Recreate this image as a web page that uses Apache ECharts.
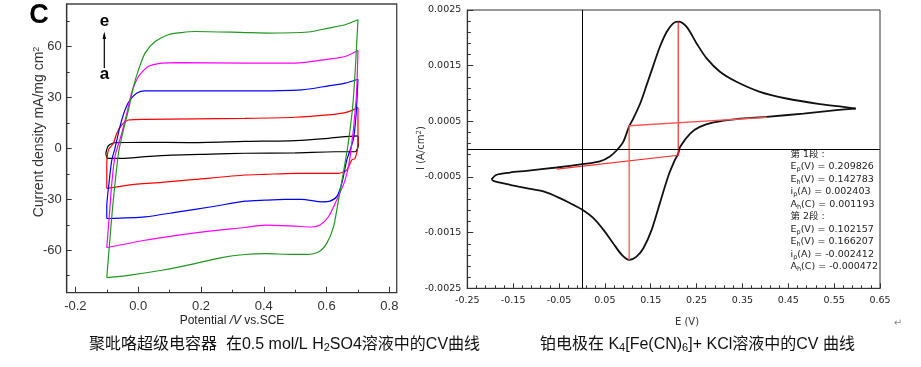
<!DOCTYPE html>
<html><head><meta charset="utf-8">
<script src="https://cdn.jsdelivr.net/npm/echarts@6/dist/echarts.min.js"></script>
<style>html,body{margin:0;padding:0;background:#fff}#c{width:921px;height:367px}</style>
</head><body><div id="c"></div>
<script>
// ---------- Left panel: polypyrrole supercapacitor CV loops (E in V, J in mA/mg cm2) ----------
// each loop: anodic (upper) branch and cathodic (lower) branch
const loopAUp = [[-0.103,-2.9],[-0.098,0.5],[-0.090,2.2],[-0.074,3.3],[0.022,3.6],[0.160,3.4],[0.340,4.1],[0.500,4.6],[0.606,5.9],[0.659,6.9],[0.700,7.3]];
const loopADown = [[0.700,7.3],[0.701,2.0],[0.691,-2.0],[0.627,-2.0],[0.500,-2.7],[0.340,-2.9],[0.234,-3.4],[0.107,-4.0],[0.022,-4.9],[-0.052,-5.9],[-0.097,-5.9],[-0.103,-2.9]];
const loopBUp = [[-0.100,-23.6],[-0.100,-10.8],[-0.095,-1.0],[-0.079,3.0],[-0.068,8.9],[-0.052,13.8],[-0.031,16.7],[0.022,17.1],[0.340,17.7],[0.500,18.3],[0.606,19.7],[0.659,21.0],[0.700,24.0]];
const loopBDown = [[0.700,24.0],[0.700,3.0],[0.691,-5.9],[0.680,-6.9],[0.664,-12.8],[0.638,-14.7],[0.553,-14.7],[0.500,-14.7],[0.404,-15.3],[0.340,-15.7],[0.181,-18.3],[0.075,-20.0],[-0.031,-21.6],[-0.100,-23.6]];
const loopCUp = [[-0.100,-41.3],[-0.100,-34.4],[-0.093,-20.6],[-0.084,-6.9],[-0.074,0.0],[-0.058,12.8],[-0.042,22.6],[-0.026,28.5],[-0.005,32.5],[0.022,33.8],[0.340,33.8],[0.521,34.4],[0.606,36.8],[0.659,38.4],[0.700,40.7]];
const loopCDown = [[0.700,40.7],[0.694,20.0],[0.686,6.0],[0.675,-1.0],[0.664,-7.0],[0.650,-19.5],[0.634,-28.0],[0.611,-31.1],[0.585,-31.5],[0.521,-30.1],[0.468,-30.1],[0.404,-30.5],[0.340,-31.1],[0.234,-34.4],[0.128,-37.4],[0.022,-40.3],[-0.100,-41.3]];
const loopDUp = [[-0.100,-58.4],[-0.092,-40.0],[-0.084,-20.6],[-0.074,-4.9],[-0.062,3.0],[-0.052,9.0],[-0.036,20.7],[-0.021,32.5],[0.001,42.3],[0.032,48.2],[0.075,50.2],[0.128,50.5],[0.340,50.2],[0.500,50.2],[0.606,52.5],[0.659,54.1],[0.700,57.6]];
const loopDDown = [[0.700,57.6],[0.694,28.5],[0.675,-4.9],[0.659,-18.7],[0.632,-30.5],[0.606,-40.3],[0.579,-45.2],[0.553,-46.3],[0.500,-45.8],[0.404,-45.2],[0.340,-46.6],[0.234,-48.6],[0.128,-51.1],[0.022,-54.1],[-0.100,-58.4]];
const loopEUp = [[-0.100,-76.1],[-0.092,-58.0],[-0.080,-32.0],[-0.062,-2.0],[-0.048,10.0],[-0.031,22.6],[-0.015,36.4],[0.001,46.2],[0.022,56.1],[0.054,62.9],[0.096,66.9],[0.139,68.2],[0.181,68.8],[0.340,68.2],[0.415,67.9],[0.542,68.5],[0.606,70.8],[0.659,72.8],[0.700,75.7]];
const loopEDown = [[0.700,75.7],[0.685,28.5],[0.669,3.0],[0.653,-14.7],[0.638,-30.5],[0.622,-46.2],[0.600,-56.1],[0.574,-61.0],[0.537,-62.4],[0.489,-62.4],[0.404,-62.0],[0.340,-62.5],[0.266,-64.3],[0.181,-67.9],[0.075,-71.8],[-0.031,-74.8],[-0.100,-76.1]];
const leftXTicks = [-0.2, 0.0, 0.2, 0.4, 0.6, 0.8];
const leftXMinor = [-0.1, 0.1, 0.3, 0.5, 0.7];
const leftYTicks = [-60, -30, 0, 30, 60];
const leftYMinor = [-75, -45, -15, 15, 45, 75];

// ---------- Right panel: Pt electrode in K4[Fe(CN)6] + KCl (E in V, I in A/cm2) ----------
const cvForward = [[-0.197,-0.00054],[-0.186,-0.00046],[-0.157,-0.00042],[-0.121,-0.00039],[-0.055,-0.00033],[0.001,-0.00027],[0.039,-0.00022],[0.061,-0.00013],[0.076,-0.00002],[0.090,0.00013],[0.103,0.00041],[0.112,0.00055],[0.127,0.00082],[0.141,0.00115],[0.156,0.00151],[0.170,0.00184],[0.185,0.00211],[0.199,0.00226],[0.210,0.00229],[0.228,0.00220],[0.250,0.00190],[0.272,0.00163],[0.301,0.00139],[0.337,0.00121],[0.388,0.00103],[0.446,0.00091],[0.519,0.00081],[0.570,0.00076],[0.597,0.00073]];
const cvReverse = [[0.597,0.00073],[0.555,0.00070],[0.483,0.00064],[0.403,0.00058],[0.337,0.00054],[0.287,0.00048],[0.257,0.00040],[0.236,0.00028],[0.214,0.00004],[0.210,-0.00008],[0.203,-0.00019],[0.188,-0.00049],[0.170,-0.00097],[0.152,-0.00145],[0.134,-0.00178],[0.119,-0.00193],[0.103,-0.00199],[0.087,-0.00190],[0.068,-0.00169],[0.047,-0.00145],[0.025,-0.00124],[0.001,-0.00109],[-0.019,-0.00100],[-0.048,-0.00088],[-0.084,-0.00076],[-0.121,-0.00070],[-0.157,-0.00064],[-0.193,-0.00057],[-0.197,-0.00054]];
const redOx = [[0.210,0.00229],[0.210,-0.00011],[-0.055,-0.00036]];
const redRed = [[0.103,-0.00199],[0.103,0.00042],[0.403,0.00057]];
const rightXTicks = [-0.25,-0.15,-0.05,0.05,0.15,0.25,0.35,0.45,0.55,0.65];
const rightYTicks = [-0.0025,-0.0015,-0.0005,0.0005,0.0015,0.0025];
const rightXMinor = [];
for (let k = -25; k <= 65; k += 2) { if ((k + 25) % 10 !== 0) rightXMinor.push(k / 100); }
const rightYMinor = [];
for (let k = -25; k <= 25; k += 2) { if ((k + 25) % 10 !== 0) rightYMinor.push(k / 10000); }
const annotLines = ['第 1段 :', 'E{s|p}(V) = 0.209826', 'E{s|h}(V) = 0.142783', 'i{s|p}(A) = 0.002403', 'A{s|h}(C) = 0.001193',
                    '第 2段 :', 'E{s|p}(V) = 0.102157', 'E{s|h}(V) = 0.166207', 'i{s|p}(A) = -0.002412', 'A{s|h}(C) = -0.000472'];

const LF = '"Liberation Sans", Arial, sans-serif';
const RF = '"DejaVu Sans", "Noto Sans CJK SC", sans-serif';
const CF = '"Liberation Sans", "Noto Sans CJK SC", sans-serif';

function mainAxis(grid, min, max, ticks, fmt, len, font, size, margin, color, labelColor) {
  return {gridIndex: grid, type: 'value', min: min, max: max,
    axisLine: {show: true, onZero: false, lineStyle: {color: color, width: 1.2}},
    axisTick: {show: true, inside: true, length: len, customValues: ticks, lineStyle: {color: color, width: 1}},
    axisLabel: {show: true, customValues: ticks, formatter: fmt, fontFamily: font, fontSize: size, color: labelColor, margin: margin, hideOverlap: false},
    splitLine: {show: false}, minorTick: {show: false}};
}
function minorAxis(grid, min, max, ticks, len, color) {
  return {gridIndex: grid, type: 'value', min: min, max: max,
    axisLine: {show: false, onZero: false},
    axisTick: {show: true, inside: true, length: len, customValues: ticks, lineStyle: {color: color, width: 1}},
    axisLabel: {show: false}, splitLine: {show: false}};
}
const xa0 = mainAxis(0, -0.2276, 0.8233, leftXTicks, v => v.toFixed(1), 6, LF, 13, 7, '#333', '#333'); xa0.position = 'bottom';
const xa1 = minorAxis(0, -0.2276, 0.8233, leftXMinor, 3, '#333'); xa1.position = 'bottom';
const ya0 = mainAxis(0, -85, 85, leftYTicks, v => String(v), 5, LF, 13, 5, '#333', '#333'); ya0.position = 'left';
const ya1 = minorAxis(0, -85, 85, leftYMinor, 3, '#333'); ya1.position = 'left';
const xa2 = mainAxis(1, -0.25, 0.65, rightXTicks, v => v.toFixed(2), 5, RF, 9.5, 7, '#333', '#222'); xa2.position = 'bottom';
const xa3 = minorAxis(1, -0.25, 0.65, rightXMinor, 3, '#333'); xa3.position = 'bottom';
const ya2 = mainAxis(1, -0.0025, 0.0025, rightYTicks, v => v.toFixed(4), 6, RF, 9.5, 6, '#333', '#222'); ya2.position = 'left';
const ya3 = minorAxis(1, -0.0025, 0.0025, rightYMinor, 3.5, '#333'); ya3.position = 'left';

function branch(data, color) {
  return {type: 'line', xAxisIndex: 0, yAxisIndex: 0, data: data, showSymbol: false, symbol: 'none', smooth: 0.25,
    lineStyle: {color: color, width: 1.2}, silent: true, z: 3};
}

const graphic = [
  {type: 'text', x: 39, y: 16, style: {text: 'C', fontFamily: LF, fontSize: 27, fontWeight: 'bold', fill: '#000', align: 'center', verticalAlign: 'middle'}},
  {type: 'text', x: 104.5, y: 21, style: {text: 'e', fontFamily: LF, fontSize: 17, fontWeight: 'bold', fill: '#000', align: 'center', verticalAlign: 'middle'}},
  {type: 'text', x: 104.5, y: 74, style: {text: 'a', fontFamily: LF, fontSize: 17, fontWeight: 'bold', fill: '#000', align: 'center', verticalAlign: 'middle'}},
  {type: 'line', shape: {x1: 104.3, y1: 68, x2: 104.3, y2: 34}, style: {stroke: '#000', lineWidth: 1.2}},
  {type: 'polygon', shape: {points: [[102.6, 39], [106, 39], [104.3, 31.5]]}, style: {fill: '#000'}},
  {type: 'text', x: 39, y: 132, rotation: Math.PI / 2,
    style: {text: 'Current density mA/mg cm{sup|2}', fontFamily: LF, fontSize: 14, fill: '#333', align: 'center', verticalAlign: 'middle',
      rich: {sup: {fontFamily: LF, fontSize: 9, fill: '#333', verticalAlign: 'top'}}}},
  {type: 'text', x: 232, y: 321, style: {text: 'Potential {it|/V} vs.SCE', fontFamily: LF, fontSize: 12, fill: '#222', align: 'center', verticalAlign: 'middle',
      rich: {it: {fontFamily: LF, fontSize: 12, fontStyle: 'italic', fill: '#222'}}}},
  {type: 'text', x: 421, y: 148, rotation: Math.PI / 2,
    style: {text: 'I (A/cm{sup|2})', fontFamily: RF, fontSize: 10, fill: '#333', align: 'center', verticalAlign: 'middle',
      rich: {sup: {fontFamily: RF, fontSize: 7, fill: '#333', verticalAlign: 'top'}}}},
  {type: 'text', x: 687, y: 322, style: {text: 'E (V)', fontFamily: RF, fontSize: 10, fill: '#333', align: 'center', verticalAlign: 'middle'}},
  {type: 'text', x: 89, y: 345, style: {text: '聚吡咯超级电容器  在0.5 mol/L H{sub|2}SO4溶液中的CV曲线', fontFamily: CF, fontSize: 16, fill: '#111', align: 'left', verticalAlign: 'middle',
      rich: {sub: {fontFamily: CF, fontSize: 11, fill: '#111', verticalAlign: 'bottom'}}}},
  {type: 'text', x: 540, y: 345, style: {text: '铂电极在 K{sub|4}[Fe(CN){sub|6}]+ KCl溶液中的CV 曲线', fontFamily: CF, fontSize: 16, fill: '#111', align: 'left', verticalAlign: 'middle',
      rich: {sub: {fontFamily: CF, fontSize: 11, fill: '#111', verticalAlign: 'bottom'}}}},
  {type: 'text', x: 898, y: 323, style: {text: '↵', fontFamily: '"DejaVu Sans"', fontSize: 10, fill: '#888', align: 'center', verticalAlign: 'middle'}}
];
annotLines.forEach(function (t, i) {
  graphic.push({type: 'text', x: 790.5, y: 154.3 + i * 12.5,
    style: {text: t, fontFamily: RF, fontSize: 9.5, fill: '#222', align: 'left', verticalAlign: 'middle', lineHeight: 12,
      rich: {s: {fontFamily: RF, fontSize: 6.5, fill: '#222', verticalAlign: 'bottom'}}}});
});

const chart = echarts.init(document.getElementById('c'), null, {renderer: 'canvas'});
chart.setOption({
  animation: false,
  backgroundColor: '#fff',
  grid: [
    {left: 66.7, top: 4, width: 330, height: 288.7, show: true, borderColor: '#444', borderWidth: 1.3, backgroundColor: 'transparent', containLabel: false, outerBoundsMode: 'none'},
    {left: 467.3, top: 10, width: 412.7, height: 278.3, show: true, borderColor: '#333', borderWidth: 1, backgroundColor: 'transparent', containLabel: false, outerBoundsMode: 'none'}
  ],
  xAxis: [xa0, xa1, xa2, xa3],
  yAxis: [ya0, ya1, ya2, ya3],
  series: [
    branch(loopAUp, '#000000'), branch(loopADown, '#000000'),
    branch(loopBUp, '#ff0000'), branch(loopBDown, '#ff0000'),
    branch(loopCUp, '#0000ff'), branch(loopCDown, '#0000ff'),
    branch(loopDUp, '#ff00ff'), branch(loopDDown, '#ff00ff'),
    branch(loopEUp, '#1f961f'), branch(loopEDown, '#1f961f'),
    {type: 'line', xAxisIndex: 2, yAxisIndex: 2, data: cvForward, showSymbol: false, symbol: 'none', smooth: 0.3,
      lineStyle: {color: '#111', width: 1.8}, silent: true, z: 3,
      markLine: {silent: true, symbol: 'none', label: {show: false}, animation: false,
        lineStyle: {color: '#000', width: 1, type: 'solid'}, data: [{yAxis: 0}, {xAxis: 0}]}},
    {type: 'line', xAxisIndex: 2, yAxisIndex: 2, data: cvReverse, showSymbol: false, symbol: 'none', smooth: 0.3,
      lineStyle: {color: '#111', width: 1.8}, silent: true, z: 3},
    {type: 'line', xAxisIndex: 2, yAxisIndex: 2, data: redOx, showSymbol: false, symbol: 'none',
      lineStyle: {color: '#ff2a2a', width: 1.2}, silent: true, z: 4},
    {type: 'line', xAxisIndex: 2, yAxisIndex: 2, data: redRed, showSymbol: false, symbol: 'none',
      lineStyle: {color: '#ff5555', width: 1.3}, silent: true, z: 4}
  ],
  graphic: graphic
});
</script>
</body></html>
